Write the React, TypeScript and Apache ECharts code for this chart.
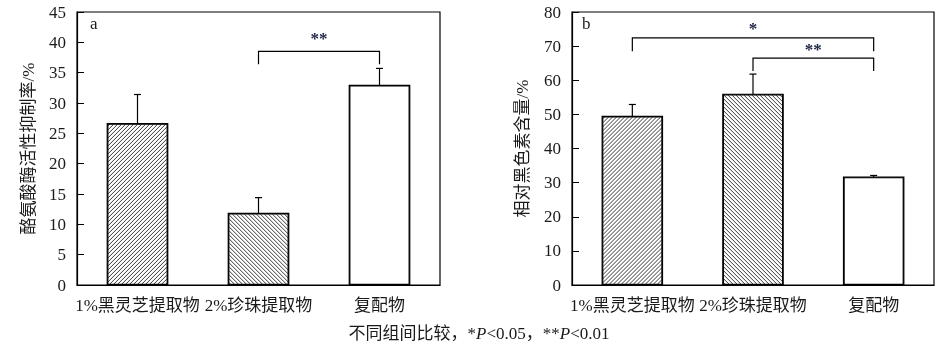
import React, { useEffect, useRef } from 'react';
import * as echarts from 'echarts';

const categories = ['1%黑灵芝提取物', '2%珍珠提取物', '复配物'];
const tyrosinaseMean = [26.6, 11.8, 32.9];
const tyrosinaseUpper = [31.4, 14.4, 35.7];
const melaninMean = [49.4, 55.9, 31.6];
const melaninUpper = [52.9, 61.8, 32.1];
// 0: "/" hatch, 1: "\" hatch, 2: plain
const hatchTypes = [0, 1, 2];
const yMaxA = 45;
const yIntervalA = 5;
const yMaxB = 80;
const yIntervalB = 10;
const sigA = [{ from: 1, to: 2, top: 38.5, leg: 36.4, mark: '**', markY: 40.6 }];
const sigB = [
  { from: 0, to: 2, top: 72.4, leg: 68.5, mark: '*', markY: 75.1 },
  { from: 1, to: 2, top: 66.5, leg: 62.7, mark: '**', markY: 69.0 },
];
const yNameA = '酪氨酸酶活性抑制率/%';
const yNameB = '相对黑色素含量/%';
const caption = '不同组间比较，*{i|P}<0.05，**{i|P}<0.01';

const FONT = "'Liberation Serif', 'Times New Roman', 'Noto Sans CJK SC', serif";
const TXT = '#1a1a1a';

function hatchRender(params: any, api: any) {
  const idx = api.value(0);
  const mean = api.value(1);
  const upper = api.value(2);
  const type = api.value(3);
  const top = api.coord([idx, mean]);
  const base = api.coord([idx, 0]);
  const errTop = api.coord([idx, upper]);
  const w = api.size([1, 0])[0] * 0.5;
  const cx = top[0];
  const x0 = cx - w / 2 + 0.5;
  const x1 = cx + w / 2 - 0.5;
  const y0 = top[1] + 0.5;
  const y1 = base[1] - 0.5;
  const children: any[] = [];
  const step = 4;
  const ls = { stroke: '#222', lineWidth: 0.9 };
  if (type === 0) {
    for (let c = x0 + y0 + step / 2; c < x1 + y1; c += step) {
      const xa = Math.max(x0, c - y1);
      const xb = Math.min(x1, c - y0);
      if (xb > xa) children.push({ type: 'line', shape: { x1: xa, y1: c - xa, x2: xb, y2: c - xb }, style: ls });
    }
  } else if (type === 1) {
    for (let c = x0 - y1 + step / 2; c < x1 - y0; c += step) {
      const xa = Math.max(x0, c + y0);
      const xb = Math.min(x1, c + y1);
      if (xb > xa) children.push({ type: 'line', shape: { x1: xa, y1: xa - c, x2: xb, y2: xb - c }, style: ls });
    }
  }
  children.push({
    type: 'rect',
    shape: { x: cx - w / 2, y: top[1], width: w, height: base[1] - top[1] },
    style: { fill: 'none', stroke: '#000', lineWidth: 1.2 },
  });
  children.push({ type: 'line', shape: { x1: cx, y1: top[1], x2: cx, y2: errTop[1] }, style: { stroke: '#000', lineWidth: 1.2 } });
  children.push({ type: 'line', shape: { x1: cx - 3.5, y1: errTop[1], x2: cx + 3.5, y2: errTop[1] }, style: { stroke: '#000', lineWidth: 1.2 } });
  return { type: 'group', children };
}

function makeBracketRender(list: any[]) {
  return (params: any, api: any) => {
    const s = list[params.dataIndex];
    const pl = api.coord([s.from, s.leg]);
    const plt = api.coord([s.from, s.top]);
    const pr = api.coord([s.to, s.leg]);
    const prt = api.coord([s.to, s.top]);
    const pmY = api.coord([s.from, s.markY])[1];
    const pmX = (pl[0] + pr[0]) / 2;
    return {
      type: 'group',
      children: [
        {
          type: 'polyline',
          shape: { points: [[pl[0], pl[1]], [plt[0], plt[1]], [prt[0], prt[1]], [pr[0], pr[1]]] },
          style: { stroke: '#000', lineWidth: 1.2, fill: 'none' },
        },
        {
          type: 'text',
          style: {
            text: s.mark,
            x: pmX,
            y: pmY,
            align: 'center',
            verticalAlign: 'middle',
            font: `bold 17px ${FONT}`,
            fill: '#1c2340',
          },
        },
      ],
    };
  };
}

export default function App() {
  const ref = useRef<HTMLDivElement>(null);
  useEffect(() => {
    if (!ref.current) return;
    const chart = echarts.init(ref.current, undefined, { renderer: 'svg' });
    const xAxisCommon = {
      type: 'category' as const,
      data: categories,
      axisLine: { lineStyle: { color: '#000', width: 1.2 } },
      axisTick: { show: false },
      axisLabel: { interval: 0, fontSize: 17, fontFamily: FONT, color: TXT, margin: 12 },
    };
    const yAxisCommon = {
      type: 'value' as const,
      min: 0,
      nameLocation: 'middle' as const,
      nameRotate: 90,
      nameTextStyle: { fontSize: 17, fontFamily: FONT, color: TXT },
      axisLine: { show: true, lineStyle: { color: '#000', width: 1.2 } },
      axisTick: { show: true, inside: true, length: 7, lineStyle: { color: '#000' } },
      axisLabel: { fontSize: 17, fontFamily: FONT, color: TXT, margin: 11 },
      splitLine: { show: false },
    };
    const barItem = () => ({ itemStyle: { color: '#fff', borderColor: '#000', borderWidth: 1.2 } });
    chart.setOption({
      animation: false,
      grid: [
        { left: 77, top: 12, width: 363, height: 273, show: true, borderColor: '#000', borderWidth: 1.2, backgroundColor: 'transparent' },
        { left: 572, top: 12, width: 362, height: 273, show: true, borderColor: '#000', borderWidth: 1.2, backgroundColor: 'transparent' },
      ],
      xAxis: [
        { ...xAxisCommon, gridIndex: 0 },
        { ...xAxisCommon, gridIndex: 1 },
      ],
      yAxis: [
        { ...yAxisCommon, gridIndex: 0, max: yMaxA, interval: yIntervalA, name: yNameA, nameGap: 40 },
        { ...yAxisCommon, gridIndex: 1, max: yMaxB, interval: yIntervalB, name: yNameB, nameGap: 41 },
      ],
      series: [
        {
          type: 'bar', xAxisIndex: 0, yAxisIndex: 0, barWidth: '50%',
          data: tyrosinaseMean.map((v) => ({ value: v, ...barItem() })),
        },
        {
          type: 'bar', xAxisIndex: 1, yAxisIndex: 1, barWidth: '50%',
          data: melaninMean.map((v) => ({ value: v, ...barItem() })),
        },
        {
          type: 'custom', xAxisIndex: 0, yAxisIndex: 0, renderItem: hatchRender, z: 5,
          encode: { x: 0, y: [1, 2] },
          data: tyrosinaseMean.map((v, i) => [i, v, tyrosinaseUpper[i], hatchTypes[i]]),
        },
        {
          type: 'custom', xAxisIndex: 1, yAxisIndex: 1, renderItem: hatchRender, z: 5,
          encode: { x: 0, y: [1, 2] },
          data: melaninMean.map((v, i) => [i, v, melaninUpper[i], hatchTypes[i]]),
        },
        {
          type: 'custom', xAxisIndex: 0, yAxisIndex: 0, renderItem: makeBracketRender(sigA), z: 6,
          encode: { x: [0, 1], y: [2, 3, 4] },
          data: sigA.map((s) => [s.from, s.to, s.top, s.leg, s.markY]),
        },
        {
          type: 'custom', xAxisIndex: 1, yAxisIndex: 1, renderItem: makeBracketRender(sigB), z: 6,
          encode: { x: [0, 1], y: [2, 3, 4] },
          data: sigB.map((s) => [s.from, s.to, s.top, s.leg, s.markY]),
        },
      ],
      graphic: [
        { type: 'text', left: 90, top: 15, style: { text: 'a', font: `17px ${FONT}`, fill: TXT } },
        { type: 'text', left: 582, top: 15, style: { text: 'b', font: `17px ${FONT}`, fill: TXT } },
        {
          type: 'text', x: 479, y: 333,
          style: {
            text: caption,
            align: 'center',
            verticalAlign: 'middle',
            font: `17px ${FONT}`,
            fill: TXT,
            rich: { i: { fontStyle: 'italic', fontSize: 17, fontFamily: FONT, fill: TXT } },
          },
        },
      ],
    });
    return () => chart.dispose();
  }, []);
  return <div ref={ref} style={{ position: 'fixed', left: 0, top: 0, width: 946, height: 351 }} />;
}
